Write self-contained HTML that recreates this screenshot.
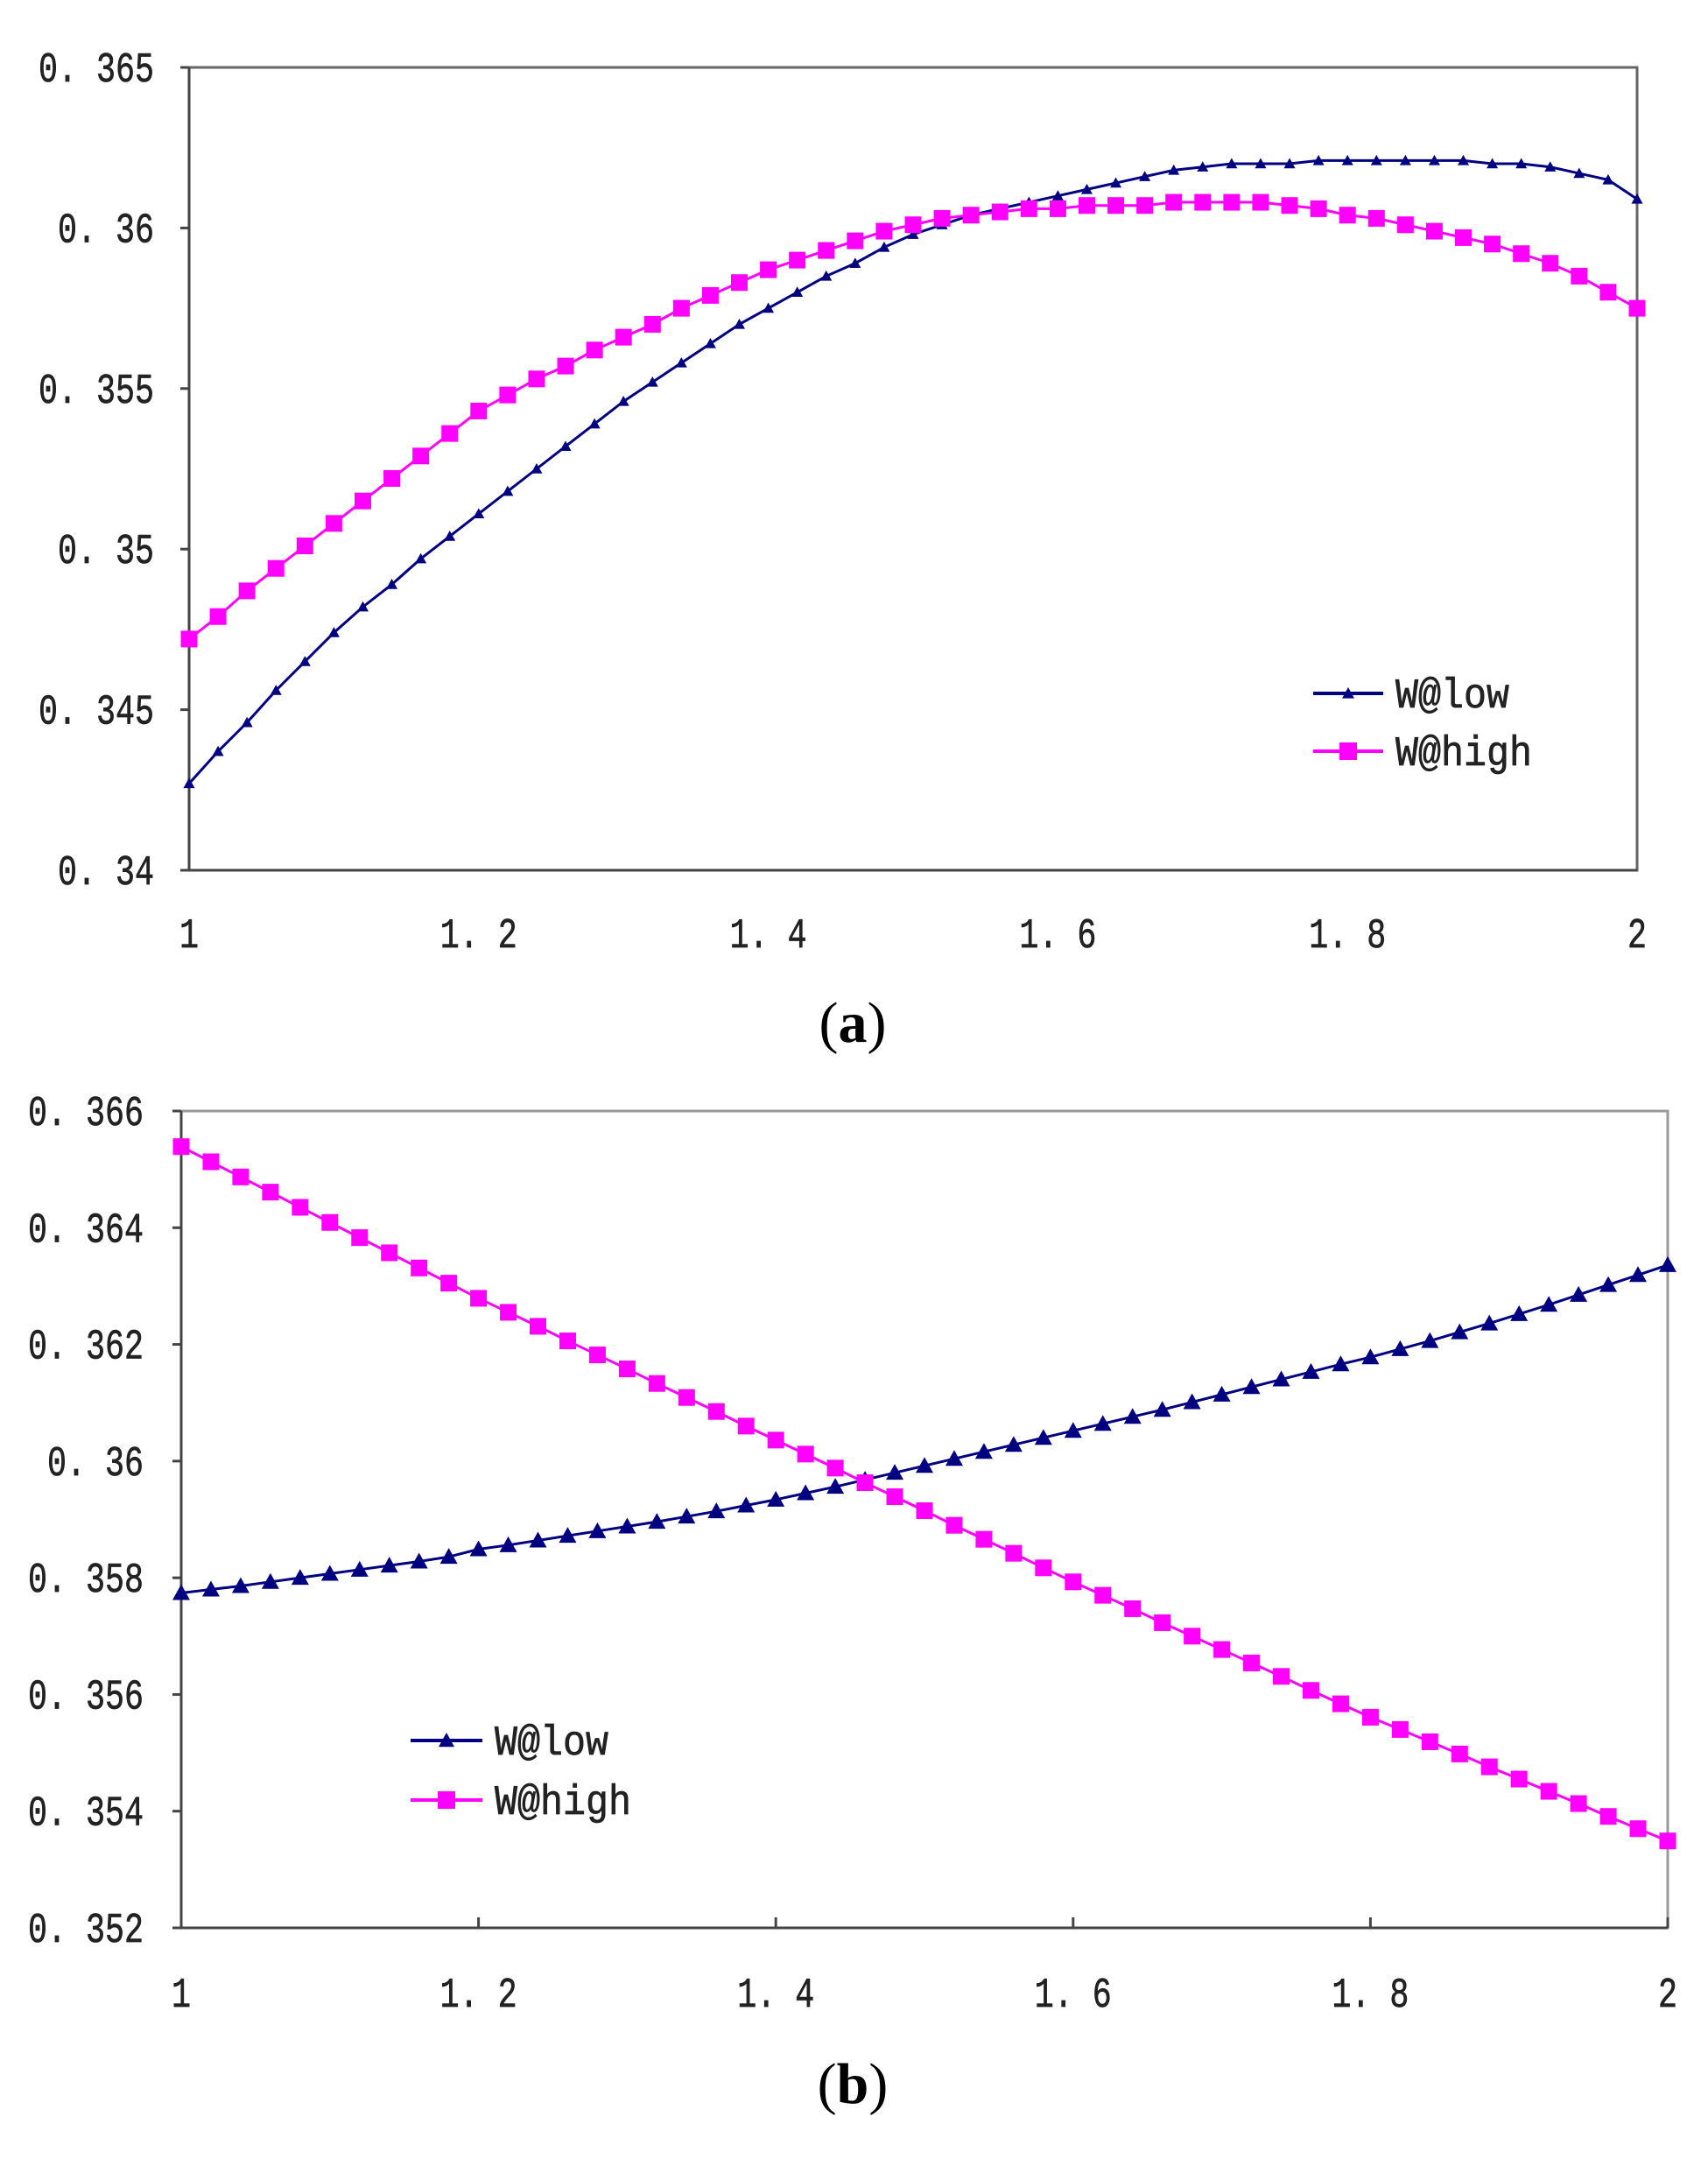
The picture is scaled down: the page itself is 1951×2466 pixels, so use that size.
<!DOCTYPE html>
<html><head><meta charset="utf-8"><style>
html,body{margin:0;padding:0;background:#fff;}
svg{display:block;}
text{font-family:"Liberation Mono","Noto Sans CJK SC",monospace;fill:#222;stroke:#222;stroke-width:0.7;}
.cap{font-family:"Liberation Serif",serif;fill:#000;stroke:none;}
</style></head><body>
<svg id="fig" width="1951" height="2466" viewBox="0 0 1951 2466" xmlns="http://www.w3.org/2000/svg"></svg>
<script>
const xStart = 1.0, xStep = 0.02;
const aLow = [.3427,.3437,.3446,.3456,.3465,.3474,.3482,.3489,.3497,.3504,
.3511,.3518,.3525,.3532,.3539,.3546,.3552,.3558,.3564,.3570,
.3575,.3580,.3585,.3589,.3594,.3598,.3601,.3604,.3606,.3608,
.3610,.3612,.3614,.3616,.3618,.3619,.3620,.3620,.3620,.3621,
.3621,.3621,.3621,.3621,.3621,.3620,.3620,.3619,.3617,.3615,
.3609];
const aHigh = [.3472,.3479,.3487,.3494,.3501,.3508,.3515,.3522,.3529,.3536,
.3543,.3548,.3553,.3557,.3562,.3566,.3570,.3575,.3579,.3583,
.3587,.3590,.3593,.3596,.3599,.3601,.3603,.3604,.3605,.3606,
.3606,.3607,.3607,.3607,.3608,.3608,.3608,.3608,.3607,.3606,
.3604,.3603,.3601,.3599,.3597,.3595,.3592,.3589,.3585,.3580,
.3575];
const bLow = [.35774,.35780,.35786,.35793,.35800,.35807,.35814,.35821,.35828,.35836,
.35849,.35856,.35864,.35872,.35880,.35888,.35896,.35905,.35914,.35924,
.35934,.35945,.35956,.35968,.35980,.35992,.36004,.36016,.36028,.36040,
.36052,.36064,.36076,.36088,.36101,.36114,.36127,.36140,.36153,.36166,
.36178,.36192,.36206,.36221,.36236,.36252,.36268,.36285,.36302,.36319,
.36336];
const bHigh = [.36539,.36513,.36487,.36461,.36435,.36409,.36383,.36357,.36331,.36305,
.36279,.36255,.36231,.36206,.36182,.36158,.36133,.36109,.36085,.36060,
.36036,.36012,.35988,.35963,.35939,.35915,.35890,.35866,.35842,.35817,
.35793,.35770,.35747,.35723,.35700,.35677,.35654,.35631,.35607,.35584,
.35561,.35540,.35519,.35498,.35476,.35455,.35434,.35413,.35391,.35370,
.35349];
const aYTicks = [0.34,0.345,0.35,0.355,0.36,0.365];
const aYLabels = ["0. 34","0. 345","0. 35","0. 355","0. 36","0. 365"];
const bYTicks = [0.352,0.354,0.356,0.358,0.36,0.362,0.364,0.366];
const bYLabels = ["0. 352","0. 354","0. 356","0. 358","0. 36","0. 362","0. 364","0. 366"];
const xTicks = [1,1.2,1.4,1.6,1.8,2];
const xLabels = ["1","1. 2","1. 4","1. 6","1. 8","2"];

const NS="http://www.w3.org/2000/svg";
const svg=document.getElementById('fig');
function mk(tag,attrs,parent){const e=document.createElementNS(NS,tag);for(const k in attrs)e.setAttribute(k,attrs[k]);(parent||svg).appendChild(e);return e;}

function chart(cfg){
  const g=mk('g',{});
  
  
  const L=cfg.L,R=cfg.R,T=cfg.T,B=cfg.B;
  const sx=v=>L+(v-1)/(2-1)*(R-L);
  const sy=v=>B-(v-cfg.ymin)/(cfg.ymax-cfg.ymin)*(B-T);
  const frame=mk('rect',{x:L,y:T,width:R-L,height:B-T,fill:'none',stroke:cfg.frameColor,'stroke-width':3},g);
  
  
  mk('line',{x1:L,y1:T,x2:L,y2:B,stroke:'#444','stroke-width':3},g);
  mk('line',{x1:L,y1:B,x2:R,y2:B,stroke:'#444','stroke-width':3},g);
  cfg.yTicks.forEach((v,i)=>{
    const y=sy(v);
    mk('line',{x1:L-10,y1:y,x2:L,y2:y,stroke:'#444','stroke-width':3},g);
    const lab=cfg.yLabels[i];
    const t=mk('text',{x:cfg.yLabelRight,y:y+16,'text-anchor':'end','font-size':48,textLength:lab.length*22,lengthAdjust:'spacingAndGlyphs'},g);
    t.textContent=lab;
    
    
  });
  xTicks.forEach((v,i)=>{
    const x=sx(v);
    if(cfg.xTickInside) mk('line',{x1:x,y1:B,x2:x,y2:B-12,stroke:'#444','stroke-width':3},g);
    const lab=xLabels[i];
    const t=mk('text',{x:x,y:cfg.xLabelY,'text-anchor':'middle','font-size':48,textLength:lab.length*22,lengthAdjust:'spacingAndGlyphs'},g);
    t.textContent=lab;
    
    
  });
  function series(vals,color,marker,ms,name){
    const sg=mk('g',{},g);
    
    
    const pts=vals.map((v,i)=>[sx(xStart+i*xStep),sy(v)]);
    mk('polyline',{points:pts.map(p=>p.join(',')).join(' '),fill:'none',stroke:color,'stroke-width':3},sg);
    pts.forEach(p=>drawMarker(sg,p[0],p[1],marker,ms,color));
  }
  series(cfg.low,'#000080','tri',cfg.triSize,'series-w-low');
  series(cfg.high,'#ff00ff','sq',cfg.sqSize,'series-w-high');
  const lg=mk('g',{},g);
  
  
  [['W@low','#000080','tri',cfg.legTri],['W@high','#ff00ff','sq',cfg.legSq]].forEach((e,i)=>{
    const y=cfg.legY[i];
    mk('line',{x1:cfg.legX1,y1:y,x2:cfg.legX2,y2:y,stroke:e[1],'stroke-width':4},lg);
    drawMarker(lg,(cfg.legX1+cfg.legX2)/2,y,e[2],e[3],e[1]);
    const t=mk('text',{x:cfg.legTextX,y:y+16,'font-size':48,textLength:e[0].length*26,lengthAdjust:'spacingAndGlyphs'},lg);
    t.textContent=e[0];
    
    
  });
  const c=mk('text',{x:cfg.capX,y:cfg.capY,'text-anchor':'middle','font-size':66,class:'cap'},g);
  c.innerHTML='(<tspan font-weight="bold">'+cfg.cap+'</tspan>)';
  
  
}
function drawMarker(g,x,y,type,s,color){
  if(type==='tri'){
    const h=s/2;
    mk('polygon',{points:`${x},${y-h} ${x-h},${y+h*0.8} ${x+h},${y+h*0.8}`,fill:color},g);
  } else {
    mk('rect',{x:x-s/2,y:y-s/2,width:s,height:s,fill:color},g);
  }
}
chart({name:'chart-a',L:216,R:1870,T:77,B:994,ymin:0.34,ymax:0.365,yTicks:aYTicks,yLabels:aYLabels,
  yLabelRight:176,xLabelY:1082,xTickInside:false,low:aLow,high:aHigh,triSize:13,sqSize:19,
  frameColor:'#666',legX1:1500,legX2:1580,legY:[792,858],legTextX:1594,legTri:14,legSq:20,
  cap:'a',capX:974,capY:1190});
chart({name:'chart-b',L:207,R:1905,T:1269,B:2202,ymin:0.352,ymax:0.366,yTicks:bYTicks,yLabels:bYLabels,
  yLabelRight:164,xLabelY:2292,xTickInside:true,low:bLow,high:bHigh,triSize:20,sqSize:19,
  frameColor:'#999',legX1:469,legX2:551,legY:[1988,2056],legTextX:565,legTri:18,legSq:20,
  cap:'b',capX:974,capY:2402});
</script>
</body></html>
